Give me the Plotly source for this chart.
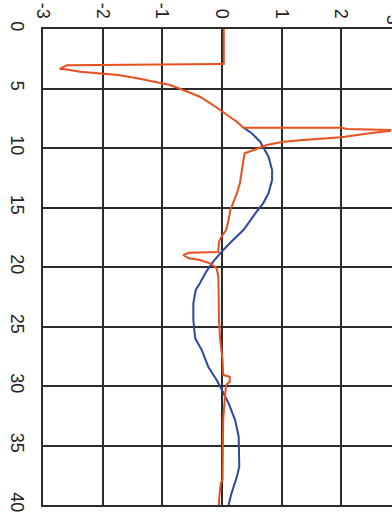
import plotly.graph_objects as go

# depth (vertical axis) and signal values (horizontal axis)
orange_depth = [0.0, 2.94, 2.94, 3.05, 3.05, 3.36, 3.39, 3.59, 3.72, 3.87, 4.14, 4.42, 4.71,
                5.13, 5.69, 6.39, 6.95, 7.37, 7.8, 8.29, 8.29, 8.40, 8.49, 8.55, 8.76, 9.10,
                9.33, 9.47, 9.75, 9.97, 10.31, 10.45, 11.01, 12.13, 12.97, 13.81, 14.65,
                15.21, 16.05, 16.89, 17.45, 17.87, 18.57, 18.74, 18.80, 18.99, 19.27, 19.41,
                19.69, 20.11, 20.82, 21.79, 22.50, 24.45, 26.13, 27.82, 29.08, 29.22, 29.64,
                29.92, 30.90, 32.86, 37.90, 38.15, 39.58, 40.0]
orange_vals = [0.03, 0.03, -0.02, -2.08, -2.6, -2.72, -2.63, -2.38, -2.13, -1.74, -1.42, -1.12,
               -0.87, -0.65, -0.37, -0.15, 0.02, 0.13, 0.25, 0.36, 2.0, 2.1, 2.82, 2.82, 2.48,
               2.00, 1.36, 1.03, 0.75, 0.64, 0.47, 0.38, 0.36, 0.33, 0.30, 0.25, 0.19, 0.14,
               0.11, 0.07, -0.01, -0.05, -0.06, -0.06, -0.55, -0.65, -0.56, -0.37, -0.20,
               -0.09, -0.06, -0.06, -0.05, -0.05, -0.03, 0.01, 0.02, 0.13, 0.13, 0.07, 0.05,
               0.02, 0.01, -0.02, -0.05, -0.05]

blue_depth = [8.29, 8.76, 9.47, 9.89, 10.73, 11.85, 12.69, 13.81, 14.65, 15.35, 15.91, 16.89,
              18.01, 18.85, 19.69, 20.53, 21.37, 21.93, 23.05, 24.45, 25.99, 26.97, 28.38,
              29.50, 30.34, 31.45, 32.86, 34.26, 36.78, 37.62, 39.02, 39.86, 40.0]
blue_vals = [0.36, 0.50, 0.64, 0.69, 0.78, 0.84, 0.84, 0.78, 0.69, 0.58, 0.50, 0.36, 0.13,
             -0.03, -0.17, -0.28, -0.37, -0.44, -0.48, -0.48, -0.45, -0.34, -0.23, -0.09,
             0.00, 0.11, 0.22, 0.28, 0.29, 0.25, 0.16, 0.12, 0.11]

value_ticks = [-3, -2, -1, 0, 1, 2]
depth_ticks = [0, 5, 10, 15, 20, 25, 30, 35, 40]

fig = go.Figure()
fig.add_trace(go.Scatter(x=blue_vals, y=blue_depth, mode="lines",
                         line=dict(color="#2B4A9B", width=2)))
fig.add_trace(go.Scatter(x=orange_vals, y=orange_depth, mode="lines",
                         line=dict(color="#E8501E", width=2)))

font = dict(family="Liberation Sans, Arial, sans-serif", size=18, color="#222222")
grid = "#2b2b2b"

fig.update_layout(
    width=392, height=520,
    margin=dict(l=43, r=0, t=29, b=15),
    paper_bgcolor="white", plot_bgcolor="white",
    showlegend=False,
    font=font,
    xaxis=dict(range=[-3, 2.85], side="top", tickmode="array", tickvals=value_ticks,
               ticktext=[str(v) for v in value_ticks], tickangle=90,
               showgrid=True, gridcolor=grid, gridwidth=2, zeroline=False,
               showline=True, linecolor=grid, linewidth=2, mirror=True,
               ticks="", ticklabelstandoff=2),
    yaxis=dict(range=[40, 0], tickmode="array", tickvals=depth_ticks,
               ticktext=[str(v) for v in depth_ticks], tickangle=90,
               showgrid=True, gridcolor=grid, gridwidth=2, zeroline=False,
               showline=True, linecolor=grid, linewidth=2,
               ticks="", ticklabelstandoff=8),
    # the "3" tick sits just past the right edge of the drawing area
    annotations=[dict(text="3", xref="paper", yref="paper", x=1.038, y=1.0,
                      yanchor="bottom", yshift=2, textangle=90, showarrow=False,
                      font=font)],
)

fig.write_html("out.html")
